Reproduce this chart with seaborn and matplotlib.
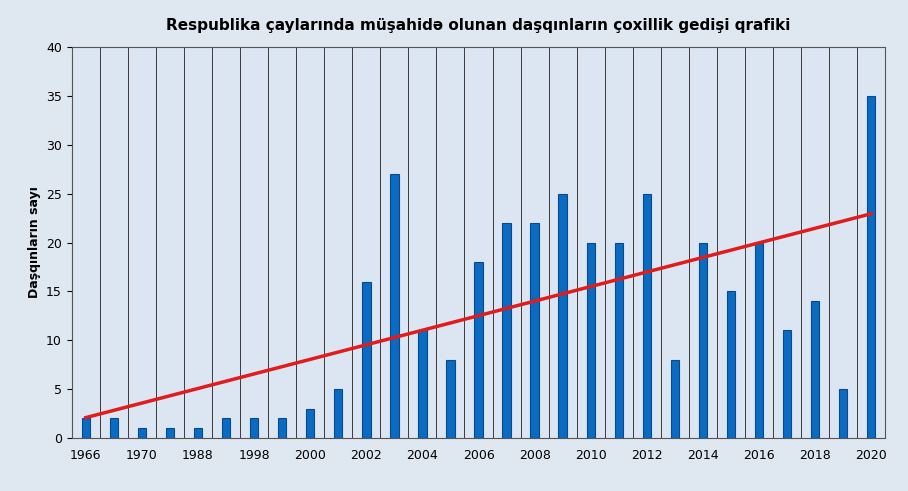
import numpy as np
import pandas as pd
import matplotlib.pyplot as plt
import seaborn as sns

# DATA
years = ["1966", "1968", "1970", "1980", "1988", "1990", "1998", "1999",
         "2000", "2001", "2002", "2003", "2004", "2005", "2006", "2007",
         "2008", "2009", "2010", "2011", "2012", "2013", "2014", "2015",
         "2016", "2017", "2018", "2019", "2020"]
counts = [2, 2, 1, 1, 1, 2, 2, 2, 3, 5, 16, 27, 11, 8, 18, 22, 22, 25,
          20, 20, 25, 8, 20, 15, 20, 11, 14, 5, 35]

TITLE  = "Respublika çaylarında müşahidə olunan daşqınların çoxillik gedişi qrafiki"
YLABEL = "Daşqınların sayı"

df = pd.DataFrame({"year": years, "count": counts})

fig, ax = plt.subplots(figsize=(9.08, 4.91), dpi=100)
fig.patch.set_facecolor("#dfe7f1")
ax.set_facecolor("#dce6f2")

sns.barplot(data=df, x="year", y="count", color="#0b6bc2", width=0.3,
            edgecolor="#084a8a", linewidth=0.8, ax=ax, zorder=3, saturation=1)

# linear trend
x = np.arange(len(counts))
k, b = np.polyfit(x, counts, 1)
ax.plot(x, k * x + b, color="#e01c1c", lw=2.5, zorder=4)

# vertical grid between bars
for xv in np.arange(-0.5, len(counts), 1):
    ax.axvline(xv, color="#3b3b3b", lw=0.7, zorder=1)

ax.set_xlim(-0.5, len(counts) - 0.5)
ax.set_ylim(0, 40)
ax.set_yticks(range(0, 41, 5))
ax.set_xticks(x)
ax.set_xticklabels([y if i % 2 == 0 else "" for i, y in enumerate(years)], fontsize=9)
ax.tick_params(axis="y", labelsize=9)
ax.tick_params(axis="x", length=0, pad=8)
ax.set_xlabel("")
ax.set_ylabel(YLABEL, fontsize=9, fontweight="bold")
for s in ax.spines.values():
    s.set_color("#555555")
ax.set_title(TITLE, fontsize=11, fontweight="bold", pad=12)

plt.subplots_adjust(left=0.079, right=0.975, top=0.904, bottom=0.108)
plt.savefig("out.png", dpi=100, facecolor=fig.get_facecolor())
